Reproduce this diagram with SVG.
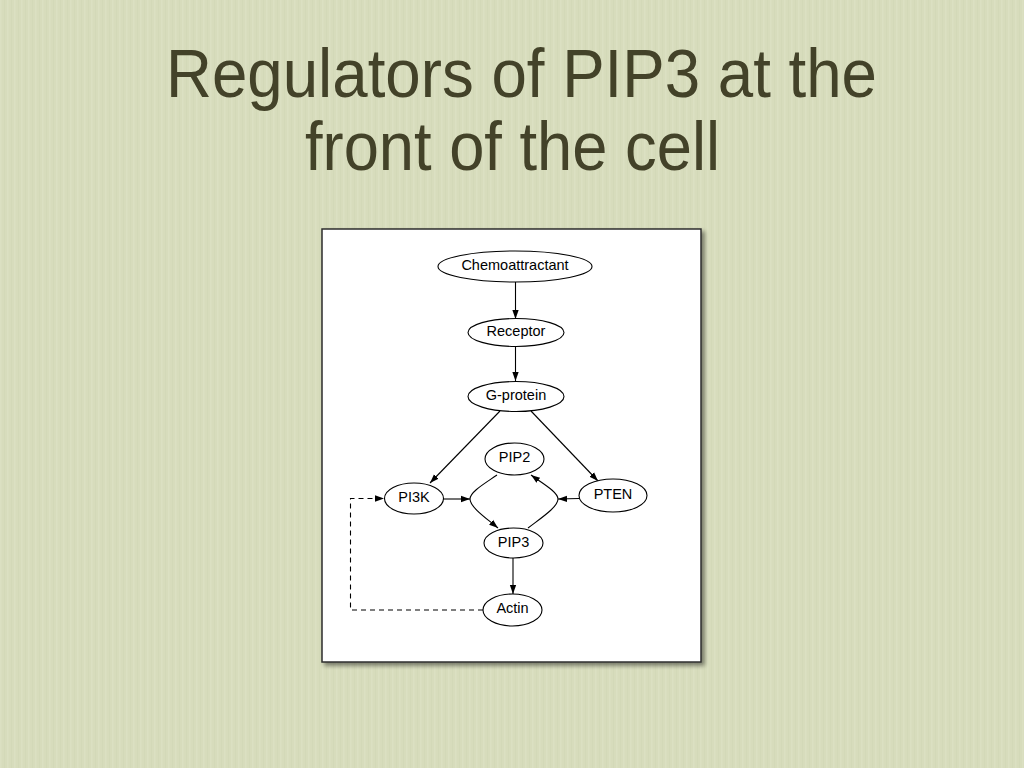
<svg xmlns="http://www.w3.org/2000/svg" width="1024" height="768" viewBox="0 0 1024 768">
<defs>
<style>
.title{font-family:"Liberation Sans",Arial,sans-serif;font-size:69px;fill:#434229}
.node ellipse{fill:#fff;stroke:#000;stroke-width:1.1}
.node text{font-family:"Liberation Sans",Arial,sans-serif;font-size:14.5px;fill:#000;text-anchor:middle}
.edge{fill:none;stroke:#000;stroke-width:1.1}
.dash{stroke-dasharray:5,4}
</style>
<marker id="ah" viewBox="0 0 10 10" refX="10" refY="5" markerWidth="9" markerHeight="9" markerUnits="userSpaceOnUse" orient="auto">
<path d="M0,1.5 L10,5 L0,8.5 Z" fill="#000"/>
</marker>
<pattern id="paper" width="7" height="40" patternUnits="userSpaceOnUse">
<rect width="7" height="40" fill="#d7dcbc"/>
<rect x="0" y="0" width="1.5" height="40" fill="#dfe4c7" opacity="0.5"/>
<rect x="4" y="0" width="1" height="40" fill="#ccd3b1" opacity="0.3"/>
</pattern>
<filter id="sh" x="-5%" y="-5%" width="115%" height="115%">
<feGaussianBlur in="SourceAlpha" stdDeviation="2"/>
<feOffset dx="3" dy="3"/>
<feComponentTransfer><feFuncA type="linear" slope="0.45"/></feComponentTransfer>
<feMerge><feMergeNode/><feMergeNode in="SourceGraphic"/></feMerge>
</filter>
</defs>
<rect width="1024" height="768" fill="url(#paper)"/>
<text class="title" x="166" y="97" textLength="711" lengthAdjust="spacingAndGlyphs">Regulators of PIP3 at the</text>
<text class="title" x="305" y="170" textLength="415" lengthAdjust="spacingAndGlyphs">front of the cell</text>
<rect x="322" y="229" width="379" height="433" fill="#fff" stroke="#2e2e2e" stroke-width="1.5" filter="url(#sh)"/>
<g id="connectors">
<line class="edge" x1="515.5" y1="282" x2="515.5" y2="319" marker-end="url(#ah)"/>
<line class="edge" x1="515.5" y1="346" x2="515.5" y2="381" marker-end="url(#ah)"/>
<line class="edge" x1="500" y1="411" x2="430" y2="483" marker-end="url(#ah)"/>
<line class="edge" x1="531" y1="411" x2="598" y2="481" marker-end="url(#ah)"/>
<line class="edge" x1="443" y1="499" x2="470" y2="499" marker-end="url(#ah)"/>
<line class="edge" x1="579" y1="498.5" x2="558" y2="499" marker-end="url(#ah)"/>
<path class="edge" d="M497,475 C484,484 470,492 470,499 C470,507 486,518 498,528" marker-end="url(#ah)"/>
<path class="edge" d="M528,528 C541,518 558,507 558,499 C558,492 542,483 531,475" marker-end="url(#ah)"/>
<line class="edge" x1="513" y1="558" x2="513" y2="594" marker-end="url(#ah)"/>
<path class="edge dash" d="M483,610 L350.5,610 L350.5,498.5 L384,498.5" marker-end="url(#ah)"/>
</g>
<g id="n-chemo" class="node"><ellipse cx="515" cy="266.5" rx="77" ry="15.5"/><text x="515" y="269.5">Chemoattractant</text></g>
<g id="n-receptor" class="node"><ellipse cx="516" cy="332.5" rx="48" ry="14"/><text x="516" y="335.5">Receptor</text></g>
<g id="n-gprotein" class="node"><ellipse cx="516" cy="396.5" rx="48" ry="15"/><text x="516" y="399.5">G-protein</text></g>
<g id="n-pip2" class="node"><ellipse cx="514.5" cy="459" rx="29.5" ry="16"/><text x="514.5" y="462">PIP2</text></g>
<g id="n-pi3k" class="node"><ellipse cx="414" cy="498.5" rx="29.5" ry="15.5"/><text x="414" y="502">PI3K</text></g>
<g id="n-pten" class="node"><ellipse cx="613" cy="495.5" rx="34" ry="16.5"/><text x="613" y="498.5">PTEN</text></g>
<g id="n-pip3" class="node"><ellipse cx="513.5" cy="543" rx="29.5" ry="15"/><text x="513.5" y="546.5">PIP3</text></g>
<g id="n-actin" class="node"><ellipse cx="512.5" cy="610" rx="29.5" ry="16"/><text x="512.5" y="612.5">Actin</text></g>
</svg>
